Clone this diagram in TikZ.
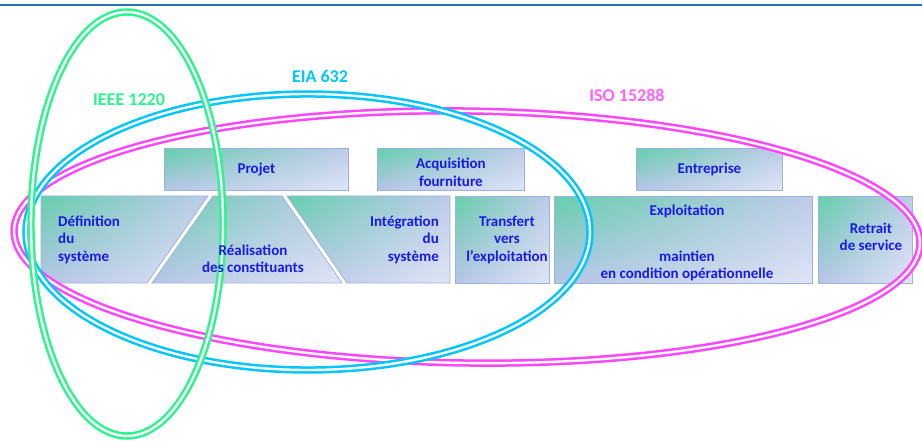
\documentclass[tikz,border=0pt]{standalone}
\usepackage{fontspec}
\setmainfont{Carlito}
\usetikzlibrary{positioning,shadings}
\definecolor{ink}{HTML}{1A1AE6}
\definecolor{edge}{HTML}{9BB4DD}
\definecolor{tealg}{HTML}{66CFAC}
\definecolor{lavA}{HTML}{BECAEA}
\definecolor{lavB}{HTML}{B7C4E8}
\definecolor{lavC}{HTML}{DFE5F5}
\definecolor{rule}{HTML}{2370B8}
\definecolor{ieee}{HTML}{2CF58E}
\definecolor{eia}{HTML}{00C6FF}
\definecolor{iso}{HTML}{FF45FF}
\tikzset{
  stage/.style={draw=edge,line width=0.8pt,upper left=tealg,upper right=lavA,
    lower left=lavB,lower right=lavC},
  blk/.style={stage,rectangle,inner sep=0pt,anchor=north west},
  txt/.style={text=ink,font=\fontsize{15}{17.5}\selectfont\bfseries,inner sep=0pt},
  std/.style={double=white,double distance=2.4pt,line width=2.5pt},
  lbl/.style={font=\fontsize{18}{20}\selectfont\bfseries,inner sep=0pt},
}

\begin{document}
\begin{tikzpicture}[x=1pt,y=-1pt]
  \useasboundingbox (0,0) rectangle (922,441);
  \draw[draw=rule,line width=2pt] (0,5.5) -- (922,5.5);
  % upper row
  \node[blk,minimum width=184pt,minimum height=42pt] (projet) at (164,148) {};
  \node[blk,minimum width=147pt,minimum height=42pt] (acq) at (377,148) {};
  \node[blk,minimum width=146pt,minimum height=42pt] (entr) at (636,148) {};
  % lower row
  \shade[stage] (41,196) -- (208,196) -- (147,283) -- (41,283) -- cycle;
  \shade[stage] (213,196) -- (282,196) -- (342,283) -- (152,283) -- cycle;
  \shade[stage] (287,196) -- (450,196) -- (450,283) -- (347,283) -- cycle;
  \node[blk,minimum width=94pt,minimum height=87pt] (transf) at (455,196) {};
  \node[blk,minimum width=258pt,minimum height=87pt] (exploit) at (554,196) {};
  \node[blk,minimum width=94pt,minimum height=87pt] (retrait) at (818,196) {};
  % standards
  \draw[std,iso,rotate around={-0.8:(467,237)}] (467,237) ellipse [x radius=453, y radius=126];
  \draw[std,eia] (308,232) ellipse [x radius=282, y radius=138];
  \draw[std,ieee] (127,224) ellipse [x radius=96, y radius=212];
  % texts
  \node[txt,align=center] (projett) at (projet) {Projet};
  \node[txt,align=center] (acqt) at ([yshift=-3pt]acq.center) {Acquisition\\fourniture};
  \node[txt,align=center] (entrt) at (entr) {Entreprise};
  \node[txt,anchor=west,align=left] (defsys) at (58,239.5) {Définition\\du\\système};
  \node[txt,align=center] (real) at (253,259) {Réalisation\\des constituants};
  \node[txt,anchor=east,align=right] (integ) at (439,239.5) {Intégration\\du\\système};
  \node[txt,align=center] (transt) at (507,239.5) {Transfert\\vers\\l’exploitation};
  \node[txt,align=center] (exploitt) at (687,243) {Exploitation\\[28.5pt]maintien\\en condition opérationnelle};
  \node[txt,align=center] (retraitt) at (871,237) {Retrait\\de service};
  \node[lbl,text=ieee] (ieeel) at (129,100) {IEEE 1220};
  \node[lbl,text=eia] (eial) at (320,76) {EIA 632};
  \node[lbl,text=iso!85!white] (isol) at (627,95) {ISO 15288};
\end{tikzpicture}
\end{document}
